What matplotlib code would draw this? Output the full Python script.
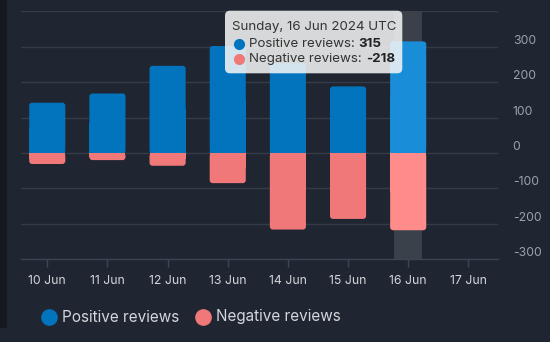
import matplotlib
matplotlib.use("Agg")
import matplotlib.pyplot as plt
from matplotlib.patches import FancyBboxPatch, Rectangle
from matplotlib.lines import Line2D
from matplotlib.text import Annotation
import matplotlib.transforms as mtransforms

plt.rcParams['font.family'] = ['Inter', 'DejaVu Sans']

# ---- data ----
categories = ["10 Jun", "11 Jun", "12 Jun", "13 Jun", "14 Jun", "15 Jun", "16 Jun", "17 Jun"]
positive = [142, 168, 246, 302, 254, 188, 315]
negative = [-31, -20, -36, -85, -216, -186, -218]
series_names = ["Positive reviews", "Negative reviews"]
yticks = [-300, -200, -100, 0, 100, 200, 300]
ylim = (-300, 400)
hover_index = 6
tooltip_title = "Sunday, 16 Jun 2024 UTC"

# ---- style ----
BG = "#1f2631"
STRIP = "#161a20"
GRID = "#343b47"
AXIS = "#3c4553"
BLUE = "#0174bd"
RED = "#f07878"
BLUE_H = "#1a8dd9"
RED_H = "#ff8b8b"
XLAB = "#d3d6db"
YLAB = "#9ba1a9"

W, H = 550, 342
fig = plt.figure(figsize=(W / 100, H / 100), dpi=100, facecolor=BG)
fig.add_artist(Rectangle((0, (H - 328) / H), 7 / W, 328 / H, transform=fig.transFigure,
                         facecolor=STRIP, edgecolor="none", zorder=0))

left, right, top, bottom = 21.3, 498.3, 11.3, 259.3
ax = fig.add_axes([left / W, (H - bottom) / H, (right - left) / W, (bottom - top) / H])
ax.set_facecolor(BG)
ax.set_xlim(-0.432, 7.498)
ax.set_ylim(*ylim)

for s in ("top", "left", "right"):
    ax.spines[s].set_visible(False)
ax.spines["bottom"].set_color(AXIS)
ax.spines["bottom"].set_linewidth(1)

# gridlines
for v in yticks[1:] + [ylim[1]]:
    ax.axhline(v, color=GRID, lw=1, zorder=1)

# hover band
ax.axvspan(hover_index - 0.235, hover_index + 0.235, color="#3a414b", zorder=1.5, lw=0)

# bars
barw = 0.6
px_per_x = (right - left) / (7.498 + 0.432)
px_per_y = (bottom - top) / (ylim[1] - ylim[0])
aspect = px_per_x / px_per_y
rad_x = 3.0 / px_per_x


def rounded_bar(x, v, color):
    b = ax.bar([x], [v], width=barw, color=color, zorder=2, lw=0)[0]
    bx, by, bw, bh = b.get_x(), b.get_y(), b.get_width(), b.get_height()
    b.set_visible(False)
    y0, h = (by, bh) if bh >= 0 else (by + bh, -bh)
    p = FancyBboxPatch((bx, y0), bw, h,
                       boxstyle=f"round,pad=0,rounding_size={rad_x}",
                       mutation_aspect=aspect, facecolor=color, edgecolor="none", zorder=2)
    ax.add_patch(p)
    # square the corners at the zero line
    if v >= 0:
        ax.add_patch(Rectangle((bx, 0), bw, v / 2, facecolor=color, edgecolor="none", zorder=2))
    else:
        ax.add_patch(Rectangle((bx, v / 2), bw, -v / 2, facecolor=color, edgecolor="none", zorder=2))


for i, (p, n) in enumerate(zip(positive, negative)):
    rounded_bar(i, p, BLUE_H if i == hover_index else BLUE)
    rounded_bar(i, n, RED_H if i == hover_index else RED)

# x axis
ax.set_xticks(range(len(categories)))
ax.set_xticklabels(categories, color=XLAB, fontsize=8.8)
ax.tick_params(axis="x", length=6, width=1, color=AXIS, pad=5)
ax.set_yticks([])

# y labels on the right, slightly above gridlines
lab_tr = mtransforms.blended_transform_factory(ax.transAxes, ax.transData) + \
    mtransforms.ScaledTranslation(0, 6 / 100, fig.dpi_scale_trans)
xlab_ax = (512.7 - left) / (right - left)
for v in yticks:
    ax.text(xlab_ax, v, f"{v}", transform=lab_tr, ha="left", va="center",
            color=YLAB, fontsize=8.8)

# tooltip
tx0, tx1, ty0, ty1 = 225, 402.3, 10.7, 73.3
tip = FancyBboxPatch((tx0 / W, (H - ty1) / H), (tx1 - tx0) / W, (ty1 - ty0) / H,
                     boxstyle="round,pad=0,rounding_size=0.009", transform=fig.transFigure,
                     facecolor=(247 / 255, 247 / 255, 247 / 255, 0.86), edgecolor="none",
                     mutation_aspect=W / H, zorder=10)
fig.add_artist(tip)
fig.text(232.3 / W, (H - 27.3) / H, tooltip_title, ha="left", va="center",
         color="#333333", fontsize=9.6, zorder=11)
vals = [positive[hover_index], negative[hover_index]]
for name, col, val, yy in zip(series_names, [BLUE, RED], vals, [44.0, 58.6]):
    fig.add_artist(Line2D([239.2 / W], [(H - yy) / H], marker="o", markersize=7,
                          color=col, lw=0, transform=fig.transFigure, zorder=11))
    t = fig.text(249.3 / W, (H - yy) / H, f"{name}: ", ha="left", va="center",
                 color="#333333", fontsize=9.6, zorder=11)
    a = Annotation(f"{val}", xy=(1, 0.5), xycoords=t, ha="left", va="center",
                   color="#222222", fontsize=9.6, fontweight="bold", zorder=12,
                   annotation_clip=False)
    fig.add_artist(a)

# legend
for name, col, mx, tx in zip(series_names, [BLUE, RED], [49.3, 203.3], [62.5, 216.5]):
    fig.add_artist(Line2D([mx / W], [(H - 316.5) / H], marker="o", markersize=11,
                          color=col, lw=0, transform=fig.transFigure))
    fig.text(tx / W, (H - 317) / H, name, ha="left", va="center", color=XLAB, fontsize=11)

fig.savefig("out.png", dpi=100, facecolor=BG)
